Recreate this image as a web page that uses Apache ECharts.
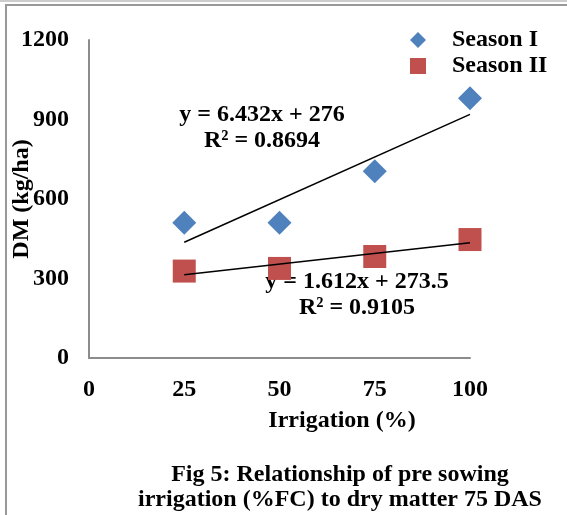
<!DOCTYPE html>
<html><head><meta charset="utf-8">
<script src="https://cdn.jsdelivr.net/npm/echarts@6/dist/echarts.min.js"></script>
<style>html,body{margin:0;padding:0;background:#fff}#c{width:567px;height:515px}</style>
</head><body><div id="c"></div>
<script>
var irrigation = [25, 50, 75, 100];
var seasonI = [510, 510, 705, 980];
var seasonII = [328, 338, 383, 447];
var trendI = {slope: 6.432, intercept: 276, r2: '0.8694'};
var trendII = {slope: 1.612, intercept: 273.5, r2: '0.9105'};
var xTicks = [0, 25, 50, 75, 100];
var yTicks = [0, 300, 600, 900, 1200];

var FONT = '"Liberation Serif","Times New Roman",serif';
var FS = 24;
function pairs(xs, ys){ return xs.map(function(x,i){return [x, ys[i]];}); }
function trend(t){ var a = irrigation[0], b = irrigation[irrigation.length-1];
  return [[a, t.slope*a + t.intercept], [b, t.slope*b + t.intercept]]; }

var chart = echarts.init(document.getElementById('c'), null, {renderer:'canvas'});
var txt = {fontFamily: FONT, fontWeight: 'bold', fontSize: FS, fill: '#000', align: 'center', verticalAlign: 'middle'};
function t(x, y, s){ return {type:'text', x:x, y:y, style: Object.assign({text:s}, txt)}; }
chart.setOption({
  animation: false,
  grid: {left: 89, top: 40, right: 97, bottom: 157, containLabel: false},
  legend: {
    left: 405, top: 23, orient: 'vertical', itemGap: 2, itemWidth: 16, itemHeight: 16,
    textStyle: {fontFamily: FONT, fontWeight: 'bold', fontSize: FS, color: '#000', padding: [0,0,0,21]},
    data: [{name: 'Season I', icon: 'diamond'}, {name: 'Season II', icon: 'rect'}]
  },
  xAxis: {
    type: 'value', min: xTicks[0], max: xTicks[xTicks.length-1], interval: 25,
    axisLine: {lineStyle: {color: '#8c8c8c', width: 2}}, axisTick: {show: false}, splitLine: {show: false},
    axisLabel: {fontFamily: FONT, fontWeight: 'bold', fontSize: FS, color: '#000', margin: 20, formatter: function(v){return String(v);}}
  },
  yAxis: {
    type: 'value', min: yTicks[0], max: yTicks[yTicks.length-1], interval: 300,
    axisLine: {show: true, lineStyle: {color: '#8c8c8c', width: 2}}, axisTick: {show: false}, splitLine: {show: false},
    axisLabel: {fontFamily: FONT, fontWeight: 'bold', fontSize: FS, color: '#000', margin: 20, formatter: function(v){return String(v);}}
  },
  series: [
    {name: 'Season I', type: 'scatter', symbol: 'diamond', symbolSize: 24, itemStyle: {color: '#4F81BD', opacity: 1}, data: pairs(irrigation, seasonI), z: 3},
    {name: 'Season II', type: 'scatter', symbol: 'rect', symbolSize: 23, itemStyle: {color: '#C0504D', opacity: 1}, data: pairs(irrigation, seasonII), z: 3},
    {name: 'trendI', type: 'line', data: trend(trendI), symbol: 'none', lineStyle: {color: '#000', width: 1.5}, z: 4},
    {name: 'trendII', type: 'line', data: trend(trendII), symbol: 'none', lineStyle: {color: '#000', width: 1.5}, z: 4}
  ],
  graphic: [
    t(262, 115, 'y = ' + trendI.slope + 'x + ' + trendI.intercept),
    t(262, 141, 'R² = ' + trendI.r2),
    t(357, 282, 'y = ' + trendII.slope + 'x + ' + trendII.intercept),
    t(357, 308, 'R² = ' + trendII.r2),
    t(342, 421, 'Irrigation (%)'),
    t(340, 475, 'Fig 5: Relationship of pre sowing'),
    t(340, 500, 'irrigation (%FC) to dry matter 75 DAS'),
    {type:'text', x: 22, y: 199, rotation: Math.PI/2, style: Object.assign({text:'DM (kg/ha)'}, txt)},
    {type:'rect', shape:{x:0,y:0.5,width:567,height:1}, style:{fill:'#999'}},
    {type:'rect', shape:{x:5,y:4,width:562,height:2}, style:{fill:'#999'}},
    {type:'rect', shape:{x:5,y:4,width:2,height:511}, style:{fill:'#999'}}
  ]
});
</script></body></html>
